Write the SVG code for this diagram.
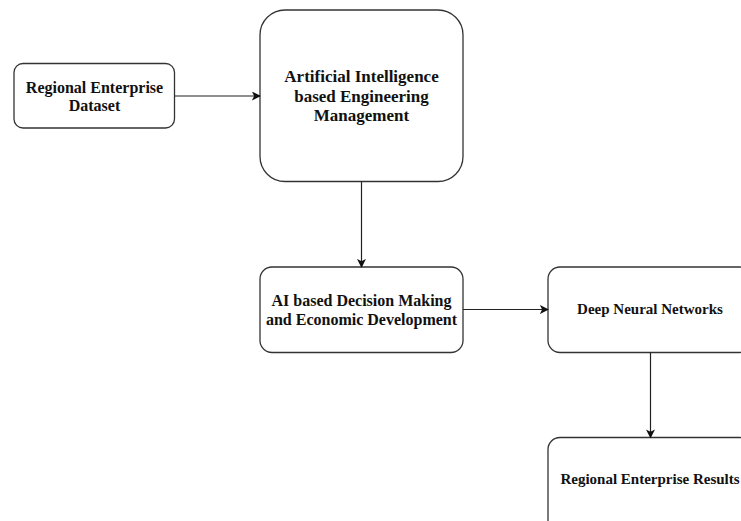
<svg xmlns="http://www.w3.org/2000/svg" width="741" height="521" viewBox="0 0 741 521">
<defs>
<style>
.box{fill:#fff;stroke:#333;stroke-width:1.3}
.lbl{font-family:"Liberation Serif","Times New Roman",serif;font-weight:bold;fill:#111;text-anchor:middle}
.edge{fill:none;stroke:#222;stroke-width:1.2}
</style>
<marker id="arr" viewBox="0 0 10 10" refX="9" refY="5" markerWidth="9" markerHeight="9" markerUnits="userSpaceOnUse" orient="auto">
<path d="M0,0 L10,5 L0,10 L2.5,5 Z" fill="#111"/>
</marker>
</defs>
<rect width="741" height="521" fill="#fff"/>
<g id="n1">
<rect class="box" x="14" y="63.5" width="160.5" height="64.5" rx="9"/>
<text class="lbl" font-size="16" x="94.5" y="93">Regional Enterprise</text>
<text class="lbl" font-size="16" x="94.5" y="111">Dataset</text>
</g>
<g id="n2">
<rect class="box" x="260" y="10" width="203" height="171.5" rx="25"/>
<text class="lbl" font-size="17" x="361.5" y="82">Artificial Intelligence</text>
<text class="lbl" font-size="17" x="361.5" y="101.5">based Engineering</text>
<text class="lbl" font-size="17" x="361.5" y="121">Management</text>
</g>
<g id="n3">
<rect class="box" x="260" y="267" width="203" height="85.5" rx="12"/>
<text class="lbl" font-size="16" x="361.5" y="306">AI based Decision Making</text>
<text class="lbl" font-size="16" x="361.5" y="325">and Economic Development</text>
</g>
<g id="n4">
<rect class="box" x="548" y="267" width="204" height="85.5" rx="12"/>
<text class="lbl" font-size="15" x="650" y="314">Deep Neural Networks</text>
</g>
<g id="n5">
<rect class="box" x="548" y="437.5" width="204" height="100" rx="12"/>
<text class="lbl" font-size="15" x="650" y="484">Regional Enterprise Results</text>
</g>
<g id="edges">
<line class="edge" x1="174.5" y1="96" x2="260" y2="96" marker-end="url(#arr)"/>
<line class="edge" x1="361.5" y1="181.5" x2="361.5" y2="267" marker-end="url(#arr)"/>
<line class="edge" x1="463" y1="309.5" x2="548" y2="309.5" marker-end="url(#arr)"/>
<line class="edge" x1="650.5" y1="352.5" x2="650.5" y2="437.5" marker-end="url(#arr)"/>
</g>
</svg>
